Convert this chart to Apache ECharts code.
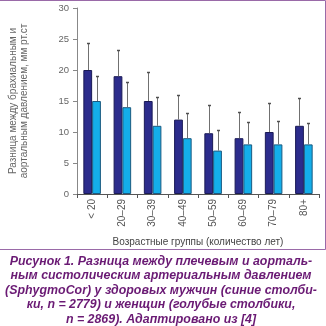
<!DOCTYPE html>
<html>
<head>
<meta charset="utf-8">
<script src="https://cdn.jsdelivr.net/npm/echarts@6/dist/echarts.min.js"></script>
<style>
  html, body { margin: 0; padding: 0; background: #fff; }
  #chart { width: 326px; height: 326px; }
</style>
</head>
<body>
<div id="chart"></div>
<script>
// Age groups (years)
const categories = ['< 20', '20–29', '30–39', '40–49', '50–59', '60–69', '70–79', '80+'];
// Brachial minus aortic systolic pressure, mm Hg
const menMean   = [20, 19, 15, 12, 9.8, 9, 10, 11];
const menSD     = [4.4, 4.3, 4.7, 4.0, 4.5, 4.2, 4.7, 4.5];
const womenMean = [15, 14, 11, 9, 7, 8, 8, 8];
const womenSD   = [4.1, 4.1, 4.7, 4.0, 3.3, 3.6, 3.8, 3.5];
const yTicks = [0, 5, 10, 15, 20, 25, 30];

const BAR_FRAC = 0.29;

function errorSeries(means, sds, side) {
  return {
    type: 'custom',
    z: 5,
    data: means.map((m, i) => [i, m, m + sds[i]]),
    renderItem: function (params, api) {
      const i = api.value(0);
      const base = api.coord([i, api.value(1)]);
      const top = api.coord([i, api.value(2)]);
      const bw = api.size([1, 0])[0] * BAR_FRAC;
      const x = Math.round(base[0] + side * bw / 2) + 0.5;
      const ty = Math.round(top[1]) + 0.5;
      return {
        type: 'group',
        children: [
          { type: 'line', shape: { x1: x, y1: base[1], x2: x, y2: ty },
            style: { stroke: '#707070', lineWidth: 1 } },
          { type: 'line', shape: { x1: x - 1.5, y1: ty, x2: x + 1.5, y2: ty },
            style: { stroke: '#505050', lineWidth: 1.5 } }
        ]
      };
    }
  };
}

const caption = [
  'Рисунок 1. Разница между плечевым и аорталь-',
  'ным систолическим артериальным давлением',
  '(SphygmoCor) у здоровых мужчин (синие столби-',
  'ки, n = 2779) и женщин (голубые столбики,',
  'n = 2869). Адаптировано из [4]'
];

const chart = echarts.init(document.getElementById('chart'), null, { renderer: 'canvas' });
chart.setOption({
  animation: false,
  grid: { left: 57, right: 7, top: 8, bottom: 132, containLabel: false },
  xAxis: {
    type: 'category',
    data: categories,
    axisLine: { lineStyle: { color: '#555', width: 1 } },
    axisTick: { show: true, length: 4, lineStyle: { color: '#555' } },
    axisLabel: {
      rotate: 90, color: '#555', fontSize: 10, margin: 5,
      fontFamily: 'Liberation Sans, Arial, sans-serif'
    },
    name: 'Возрастные группы (количество лет)',
    nameLocation: 'middle',
    nameGap: 43,
    nameTextStyle: { color: '#444', fontSize: 10, fontFamily: 'Liberation Sans, Arial, sans-serif' }
  },
  yAxis: {
    type: 'value',
    min: yTicks[0], max: yTicks[yTicks.length - 1], interval: 5,
    splitLine: { show: false },
    axisLine: { show: true, lineStyle: { color: '#888' } },
    axisTick: { show: true, length: 4, lineStyle: { color: '#888' } },
    axisLabel: { color: '#666', fontSize: 9.5, margin: 8, fontFamily: 'Liberation Sans, Arial, sans-serif' },
    name: 'Разница между брахиальным и\nаортальным давлением, мм рт.ст',
    nameLocation: 'middle',
    nameGap: 30,
    nameTextStyle: { color: '#666', fontSize: 10, lineHeight: 11, fontFamily: 'Liberation Sans, Arial, sans-serif', padding: [0, 0, 17, 0] }
  },
  series: [
    {
      type: 'bar', data: menMean, barWidth: (BAR_FRAC * 100) + '%', barGap: '0%',
      itemStyle: { color: '#2c2c8c', borderColor: '#1a1a55', borderWidth: 1 }
    },
    {
      type: 'bar', data: womenMean, barWidth: (BAR_FRAC * 100) + '%', barGap: '0%',
      itemStyle: { color: '#14aeea', borderColor: '#1a5a80', borderWidth: 1 }
    },
    errorSeries(menMean, menSD, -1),
    errorSeries(womenMean, womenSD, 1)
  ],
  graphic: [
    { type: 'polyline', silent: true,
      shape: { points: [[-2, 0.5], [325.5, 0.5], [325.5, 249.5], [-2, 249.5]] },
      style: { stroke: '#9a6aa8', fill: null, lineWidth: 1 } }
  ].concat(caption.map((line, k) => ({
    type: 'text', silent: true, x: 161, y: 261.5 + k * 14.5,
    style: {
      text: line, fill: '#6a1a74',
      font: 'italic bold 12.4px "Liberation Sans", Arial, sans-serif',
      textAlign: 'center', textVerticalAlign: 'middle'
    }
  })))
});
</script>
</body>
</html>
